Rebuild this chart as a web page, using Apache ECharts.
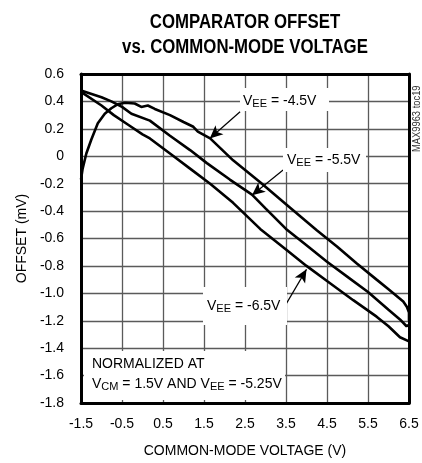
<!DOCTYPE html>
<html>
<head>
<meta charset="utf-8">
<script src="https://cdn.jsdelivr.net/npm/echarts@6/dist/echarts.min.js"></script>
<style>
html,body{margin:0;padding:0;background:#fff;}
#chart{width:422px;height:463px;}
</style>
</head>
<body>
<div id="chart"></div>
<script>
// ---- data ----
var xTicks = [-1.5, -0.5, 0.5, 1.5, 2.5, 3.5, 4.5, 5.5, 6.5];
var yTicks = [0.6, 0.4, 0.2, 0, -0.2, -0.4, -0.6, -0.8, -1.0, -1.2, -1.4, -1.6, -1.8];

var vee45X = [-1.5, -1.46, -1.37, -1.25, -1.09, -0.92, -0.76, -0.6, -0.43, -0.19, -0.03, 0.13, 0.3, 0.67, 1.0, 1.24, 1.35, 1.65, 2.21, 2.87, 3.5, 4.25, 4.75, 5.22, 5.71, 6.0, 6.36, 6.45, 6.5, 6.5];
var vee45Y = [-0.17, -0.09, 0.02, 0.12, 0.24, 0.31, 0.35, 0.38, 0.39, 0.385, 0.36, 0.37, 0.345, 0.30, 0.25, 0.215, 0.18, 0.13, -0.03, -0.19, -0.35, -0.54, -0.66, -0.78, -0.90, -0.97, -1.06, -1.10, -1.14, -1.20];

var vee55X = [-1.5, -1.0, -0.76, -0.5, -0.27, 0.18, 0.67, 1.16, 1.57, 2.13, 2.67, 3.0, 3.5, 4.0, 4.5, 5.0, 5.5, 6.0, 6.28, 6.44, 6.5];
var vee55Y = [0.48, 0.43, 0.40, 0.36, 0.31, 0.26, 0.15, 0.045, -0.05, -0.17, -0.28, -0.38, -0.53, -0.65, -0.77, -0.88, -0.99, -1.12, -1.19, -1.24, -1.23];

var vee65X = [-1.5, -1.0, -0.7, -0.35, 0, 0.18, 0.67, 1.16, 1.65, 2.21, 2.87, 3.5, 4.0, 4.5, 5.14, 5.71, 6.0, 6.28, 6.5];
var vee65Y = [0.47, 0.37, 0.30, 0.23, 0.16, 0.13, 0.02, -0.09, -0.20, -0.34, -0.53, -0.68, -0.80, -0.91, -1.05, -1.17, -1.24, -1.32, -1.35];

var seriesNames = ['VEE = -4.5V', 'VEE = -5.5V', 'VEE = -6.5V'];

function pairs(xs, ys) { return xs.map(function (x, i) { return [x, ys[i]]; }); }

var FONT = '"Liberation Sans", Arial, sans-serif';
var chart = echarts.init(document.getElementById('chart'), null, {renderer: 'canvas'});

var lineStyle = {color: '#000', width: 2.6};
var rich = {
  v: {fontFamily: FONT, fontSize: 14, color: '#000', lineHeight: 16},
  s: {fontFamily: FONT, fontSize: 11, color: '#000', lineHeight: 8, verticalAlign: 'bottom'}
};

function vlabel(txt, left, top) {
  return {
    type: 'text', left: left, top: top, z: 50,
    style: {
      text: txt, rich: rich, backgroundColor: '#fff', padding: [1, 3, 2, 3],
      fontFamily: FONT, fontSize: 14, fill: '#000'
    }
  };
}

var xMin = xTicks[0], xMax = xTicks[xTicks.length - 1];
var yMin = yTicks[yTicks.length - 1], yMax = yTicks[0];

function frameAxis(pos, isX) {
  return {
    type: 'value', position: pos, min: isX ? xMin : yMin, max: isX ? xMax : yMax, interval: isX ? 1 : 0.2,
    axisLine: {show: true, onZero: false, lineStyle: {color: '#000', width: 3}},
    axisTick: {show: false}, axisLabel: {show: false}, splitLine: {show: false}
  };
}

var gridLine = {show: true, lineStyle: {color: '#5a5a5a', width: 1.3, type: 'solid', opacity: 1}};

var option = {
  animation: false,
  backgroundColor: '#fff',
  grid: {left: 81, top: 74, right: 13, bottom: 60},
  xAxis: [{
    type: 'value', min: xMin, max: xMax, interval: 1,
    name: 'COMMON-MODE VOLTAGE (V)', nameLocation: 'middle', nameGap: 41,
    nameTextStyle: {fontFamily: FONT, fontSize: 14, color: '#000'},
    axisLine: {show: true, onZero: false, lineStyle: {color: '#000', width: 3}},
    axisTick: {show: false},
    axisLabel: {fontFamily: FONT, fontSize: 14, color: '#000', margin: 14,
      formatter: function (v) { return v.toFixed(1); }},
    splitLine: gridLine
  }, frameAxis('top', true)],
  yAxis: [{
    type: 'value', min: yMin, max: yMax, interval: 0.2,
    name: 'OFFSET (mV)', nameLocation: 'middle', nameGap: 30,
    nameTextStyle: {fontFamily: FONT, fontSize: 14, color: '#000'},
    axisLine: {show: true, onZero: false, lineStyle: {color: '#000', width: 3}},
    axisTick: {show: false},
    axisLabel: {fontFamily: FONT, fontSize: 14, color: '#000', margin: 17,
      formatter: function (v) { return Math.abs(v) < 1e-9 ? '0' : v.toFixed(1); }},
    splitLine: gridLine
  }, frameAxis('right', false)],
  series: [
    {name: seriesNames[0], type: 'line', data: pairs(vee45X, vee45Y), showSymbol: false, symbol: 'none', lineStyle: lineStyle, z: 5,
      markLine: {silent: true, symbol: ['none', 'arrow'], symbolSize: [9, 13], label: {show: false},
        lineStyle: {color: '#000', width: 1.2, type: 'solid'},
        data: [[{coord: [2.38, 0.325]}, {coord: [1.64, 0.13]}]]}},
    {name: seriesNames[1], type: 'line', data: pairs(vee55X, vee55Y), showSymbol: false, symbol: 'none', lineStyle: lineStyle, z: 5,
      markLine: {silent: true, symbol: ['none', 'arrow'], symbolSize: [9, 13], label: {show: false},
        lineStyle: {color: '#000', width: 1.2, type: 'solid'},
        data: [[{coord: [3.43, -0.10]}, {coord: [2.67, -0.285]}]]}},
    {name: seriesNames[2], type: 'line', data: pairs(vee65X, vee65Y), showSymbol: false, symbol: 'none', lineStyle: lineStyle, z: 5,
      markLine: {silent: true, symbol: ['none', 'arrow'], symbolSize: [9, 13], label: {show: false},
        lineStyle: {color: '#000', width: 1.2, type: 'solid'},
        data: [[{coord: [3.48, -1.09]}, {coord: [4.0, -0.825]}]]}}
  ],
  graphic: [
    {type: 'text', x: 245, y: 10, z: 50, scaleX: 0.84, originX: 0,
      style: {text: 'COMPARATOR OFFSET\nvs. COMMON-MODE VOLTAGE', align: 'center', verticalAlign: 'top',
        fontFamily: FONT, fontWeight: 'bold', fontSize: 20, lineHeight: 25, fill: '#000'}},
    {type: 'rect', left: 240, top: 88, z: 40, shape: {width: 89, height: 23}, style: {fill: '#fff'}},
    {type: 'rect', left: 283, top: 148, z: 40, shape: {width: 83, height: 24}, style: {fill: '#fff'}},
    {type: 'rect', left: 203, top: 287, z: 40, shape: {width: 84, height: 38}, style: {fill: '#fff'}},
    vlabel('{v|V}{s|EE}{v| = -4.5V}', 240, 92),
    vlabel('{v|V}{s|EE}{v| = -5.5V}', 284, 151),
    vlabel('{v|V}{s|EE}{v| = -6.5V}', 204, 297),
    {type: 'rect', left: 84, top: 351, z: 40, shape: {width: 201, height: 49}, style: {fill: '#fff'}},
    {type: 'text', left: 92, top: 357, z: 50, style: {text: 'NORMALIZED AT', fontFamily: FONT, fontSize: 14, fill: '#000'}},
    {type: 'text', left: 92, top: 377, z: 50, style: {text: '{v|V}{s|CM}{v| = 1.5V AND V}{s|EE}{v| = -5.25V}', rich: rich, fontFamily: FONT, fontSize: 14, fill: '#000'}},
    {type: 'text', x: 411, y: 152, z: 50, rotation: Math.PI / 2, scaleX: 0.85,
      style: {text: 'MAX9963 toc19', fontFamily: FONT, fontSize: 11, fill: '#333'}}
  ]
};
chart.setOption(option);
</script>
</body>
</html>
